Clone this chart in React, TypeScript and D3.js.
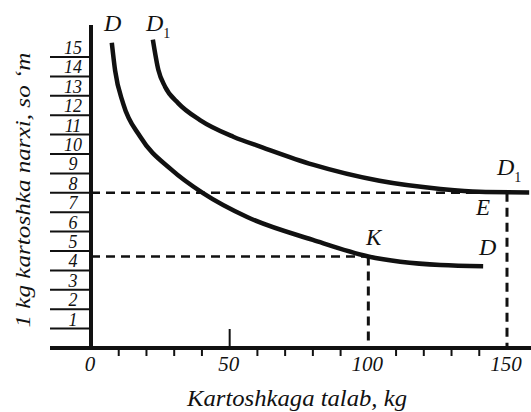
import React from "react";
import * as d3 from "d3";

const priceTicks = [1, 2, 3, 4, 5, 6, 7, 8, 9, 10, 11, 12, 13, 14, 15];
const qtyMinorTicks = [10, 20, 30, 40, 60, 70, 80, 90, 110, 120, 130, 140];
const qtyLabels = [0, 50, 100, 150];

const dQty = [7.5, 8.7, 11.6, 17.7, 29.1, 40.4, 56.3, 80, 100, 126, 141.4];
const dPrice = [15.74, 14.3, 12.6, 10.9, 9.18, 7.98, 6.75, 5.57, 4.72, 4.28, 4.22];

const d1Qty = [22.3, 24.3, 26.7, 31.5, 39.3, 51.3, 62, 80, 104, 126, 140, 158];
const d1Price = [15.9, 14.33, 13.47, 12.61, 11.75, 10.89, 10.33, 9.45, 8.62, 8.2, 8.05, 8.02];

const pointK = { q: 100, p: 4.72 };
const pointE = { q: 150, p: 8 };

const W = 531;
const H = 412;
const FONT = "Liberation Serif, DejaVu Serif, Noto Serif, serif";

const txt: React.CSSProperties = { fontFamily: FONT, fontStyle: "italic" };

export default function App() {
  const x = d3.scaleLinear().domain([0, 150]).range([91, 507]);
  const y = d3.scaleLinear().domain([0, 15]).range([348, 57]);

  const line = d3
    .line<[number, number]>()
    .x((d) => x(d[0]))
    .y((d) => y(d[1]))
    .curve(d3.curveMonotoneX);

  const dPath = line(dQty.map((q, i) => [q, dPrice[i]]) as [number, number][]) || "";
  const d1Path = line(d1Qty.map((q, i) => [q, d1Price[i]]) as [number, number][]) || "";

  const axisLeft = 50;
  const dash = "9,6";

  return (
    <svg
      width={W}
      height={H}
      style={{ position: "absolute", left: 0, top: 0, background: "#fff" }}
    >
      <rect x={0} y={0} width={W} height={H} fill="#fff" />
      {priceTicks.map((p) => (
        <line key={"yt" + p} x1={axisLeft} x2={x(0)} y1={y(p)} y2={y(p)} stroke="#111" strokeWidth={2} />
      ))}
      {priceTicks.map((p) => (
        <text key={"yl" + p} x={73} y={y(p) - 3} textAnchor="middle" fontSize={18} style={txt} fill="#111">
          {p}
        </text>
      ))}
      <line x1={x(0)} x2={x(pointE.q)} y1={y(pointE.p)} y2={y(pointE.p)} stroke="#111" strokeWidth={2.5} strokeDasharray={dash} />
      <line x1={x(pointE.q)} x2={x(pointE.q)} y1={y(pointE.p)} y2={y(0)} stroke="#111" strokeWidth={3} strokeDasharray={dash} />
      <line x1={x(0)} x2={x(pointK.q)} y1={y(pointK.p)} y2={y(pointK.p)} stroke="#111" strokeWidth={2.5} strokeDasharray={dash} />
      <line x1={x(pointK.q)} x2={x(pointK.q)} y1={y(pointK.p)} y2={y(0)} stroke="#111" strokeWidth={3} strokeDasharray={dash} />
      <line x1={x(0)} x2={x(0)} y1={25} y2={y(0) + 2} stroke="#111" strokeWidth={4} />
      <line x1={axisLeft} x2={W} y1={y(0)} y2={y(0)} stroke="#111" strokeWidth={4} />
      {qtyMinorTicks.map((q) => (
        <line key={"xt" + q} x1={x(q)} x2={x(q)} y1={y(0)} y2={y(0) + 8} stroke="#111" strokeWidth={2} />
      ))}
      <line x1={x(50)} x2={x(50)} y1={y(0)} y2={y(0) - 19} stroke="#111" strokeWidth={2} />
      {qtyLabels.map((q) => (
        <text key={"xl" + q} x={x(q) - 1} y={371} textAnchor="middle" fontSize={21} style={txt} fill="#111">
          {q}
        </text>
      ))}
      <path d={dPath} fill="none" stroke="#111" strokeWidth={4.5} />
      <path d={d1Path} fill="none" stroke="#111" strokeWidth={4.5} />
      <text x={104} y={31} fontSize={24} style={txt} fill="#111">D</text>
      <text x={146} y={31} fontSize={24} style={txt} fill="#111">
        D<tspan fontSize={14} style={{ fontStyle: "normal" }} dy={7}>1</tspan>
      </text>
      <text x={497} y={175} fontSize={24} style={txt} fill="#111">
        D<tspan fontSize={14} style={{ fontStyle: "normal" }} dy={7}>1</tspan>
      </text>
      <text x={476} y={215} fontSize={23} style={txt} fill="#111">E</text>
      <text x={366} y={245} fontSize={23} style={txt} fill="#111">K</text>
      <text x={479} y={255} fontSize={24} style={txt} fill="#111">D</text>
      <text x={297} y={406} textAnchor="middle" fontSize={23} style={txt} fill="#111"
        textLength={220} lengthAdjust="spacingAndGlyphs">
        Kartoshkaga talab, kg
      </text>
      <text
        transform={`translate(30, 190) rotate(-90)`}
        textAnchor="middle"
        fontSize={22}
        style={txt}
        fill="#111"
        textLength={275}
        lengthAdjust="spacingAndGlyphs"
      >
        1 kg kartoshka narxi, so ‘m
      </text>
    </svg>
  );
}
